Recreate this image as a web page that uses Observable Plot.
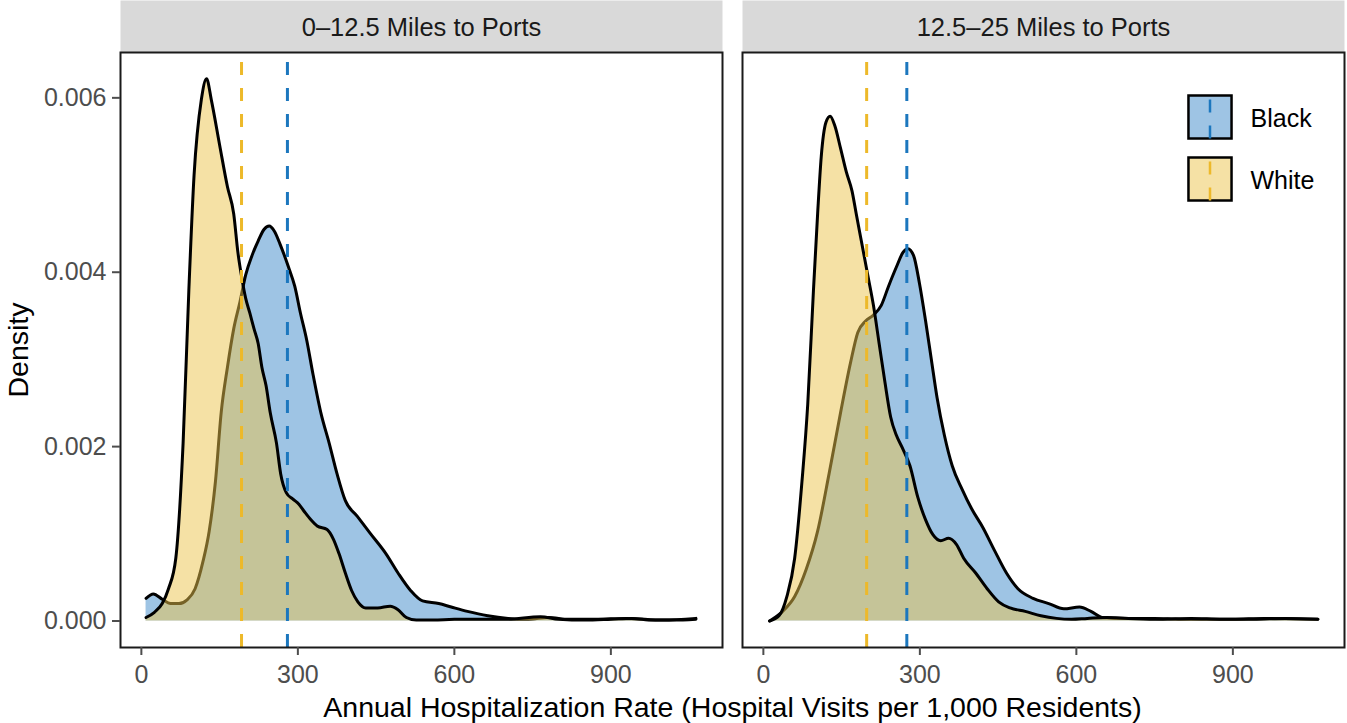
<!DOCTYPE html>
<html>
<head>
<meta charset="utf-8">
<script src="https://cdn.jsdelivr.net/npm/d3@7"></script>
<script src="https://cdn.jsdelivr.net/npm/@observablehq/plot@0.6"></script>
<style>
  html, body { margin: 0; padding: 0; background: #fff; }
  #chart svg { display: block; }
  g[aria-label="x-axis label"], g[aria-label="y-axis label"] { fill: #000; font-size: 28.5px; }
</style>
</head>
<body>
<div id="chart"></div>
<script>
// ---- categories ----
const panels = ["0–12.5 Miles to Ports", "12.5–25 Miles to Ports"];
const groups = ["Black", "White"];
const xTitle = "Annual Hospitalization Rate (Hospital Visits per 1,000 Residents)";
const yTitle = "Density";
const xTicks = [0, 300, 600, 900];
const yTicks = [0, 0.002, 0.004, 0.006];

// ---- density curves (x = rate, d = density) ----
const leftBlackX = [9, 23, 40, 56, 72, 87, 103, 118, 130, 142, 153, 165, 177, 189, 200, 212, 224, 235, 245, 255, 266, 282, 294, 305, 317, 329, 344, 360, 375, 391, 414, 438, 469, 492, 516, 539, 570, 594, 625, 664, 703, 742, 780, 820, 870, 930, 1000, 1063];
const leftBlackD = [0.00026, 0.00031, 0.00025, 0.00020, 0.00020, 0.00024, 0.00037, 0.00068, 0.00103, 0.00160, 0.00239, 0.00291, 0.00335, 0.00366, 0.00397, 0.00419, 0.00436, 0.00449, 0.00453, 0.00447, 0.00432, 0.00406, 0.00384, 0.00353, 0.00322, 0.00283, 0.00239, 0.00204, 0.00169, 0.00138, 0.00120, 0.00101, 0.00077, 0.00055, 0.00035, 0.00023, 0.00020, 0.00016, 0.00011, 0.00006, 0.00003, 0.00002, 0.00004, 0.00002, 0.00002, 0.00003, 0.00001, 0.00003];

const leftWhiteX = [9, 25, 40, 52, 66, 80, 91, 101, 115, 125, 134, 150, 165, 177, 185, 193, 200, 208, 216, 224, 231, 239, 247, 259, 267, 278, 290, 302, 313, 325, 337, 356, 368, 379, 391, 403, 415, 430, 453, 477, 492, 508, 527, 560, 600, 650, 700, 765, 800, 850, 900, 940, 980, 1020, 1063];
const leftWhiteD = [0.00004, 0.00010, 0.00020, 0.00037, 0.00072, 0.00204, 0.00379, 0.00511, 0.00598, 0.00622, 0.00598, 0.00546, 0.00498, 0.00467, 0.00423, 0.00392, 0.00370, 0.00353, 0.00335, 0.00318, 0.00291, 0.00270, 0.00239, 0.00204, 0.00169, 0.00147, 0.00140, 0.00134, 0.00125, 0.00116, 0.00109, 0.00105, 0.00094, 0.00077, 0.00055, 0.00035, 0.00022, 0.00015, 0.00015, 0.00017, 0.00013, 0.00004, 0.00001, 0.00001, 0.00002, 0.00002, 0.00002, 0.00005, 0.00002, 0.00001, 0.00002, 0.00003, 0.00001, 0.00001, 0.00002];

const rightBlackX = [12, 37, 60, 82, 104, 126, 148, 167, 181, 196, 211, 226, 240, 255, 268, 277, 288, 299, 311, 322, 333, 347, 362, 381, 399, 421, 443, 466, 488, 517, 547, 576, 606, 628, 650, 694, 750, 800, 900, 960, 1063];
const rightBlackD = [0.00000, 0.00011, 0.00028, 0.00059, 0.00103, 0.00169, 0.00239, 0.00296, 0.00331, 0.00344, 0.00351, 0.00362, 0.00384, 0.00406, 0.00423, 0.00427, 0.00419, 0.00388, 0.00344, 0.00300, 0.00256, 0.00213, 0.00178, 0.00151, 0.00129, 0.00107, 0.00081, 0.00055, 0.00037, 0.00026, 0.00020, 0.00014, 0.00016, 0.00011, 0.00004, 0.00003, 0.00003, 0.00002, 0.00002, 0.00003, 0.00002];

const rightWhiteX = [12, 30, 45, 60, 74, 85, 96, 104, 111, 120, 128, 137, 148, 159, 170, 178, 189, 200, 211, 222, 233, 244, 255, 266, 281, 296, 311, 325, 340, 355, 370, 384, 407, 429, 451, 473, 502, 532, 562, 591, 621, 658, 700, 760, 820, 880, 940, 1000, 1063];
const rightWhiteD = [0.00000, 0.00006, 0.00028, 0.00072, 0.00160, 0.00248, 0.00379, 0.00467, 0.00533, 0.00572, 0.00579, 0.00568, 0.00542, 0.00515, 0.00493, 0.00467, 0.00432, 0.00397, 0.00362, 0.00318, 0.00274, 0.00234, 0.00213, 0.00199, 0.00178, 0.00142, 0.00116, 0.00099, 0.00092, 0.00095, 0.00088, 0.00072, 0.00055, 0.00037, 0.00022, 0.00015, 0.00011, 0.00006, 0.00003, 0.00002, 0.00003, 0.00004, 0.00003, 0.00002, 0.00003, 0.00002, 0.00002, 0.00003, 0.00002];

// ---- group means (dashed lines) ----
const leftMeans = [280, 192];   // Black, White
const rightMeans = [275, 198];  // Black, White

// ---- styling ----
const fills = {Black: "#3D89C9", White: "#EBC34B"};
const dashColors = {Black: "#1C77BE", White: "#EDB92A"};

// ---- build tidy tables ----
const rows = [];
function addSeries(panel, group, xs, ds) { xs.forEach((x, i) => rows.push({panel, group, x, d: ds[i]})); }
addSeries(panels[0], "Black", leftBlackX, leftBlackD);
addSeries(panels[0], "White", leftWhiteX, leftWhiteD);
addSeries(panels[1], "Black", rightBlackX, rightBlackD);
addSeries(panels[1], "White", rightWhiteX, rightWhiteD);
const means = [];
groups.forEach((g, i) => { means.push({panel: panels[0], group: g, x: leftMeans[i]}); means.push({panel: panels[1], group: g, x: rightMeans[i]}); });
const legendItems = groups.map(g => ({panel: panels[1], group: g}));

// ---- layout ----
const W = 1347, H = 723, MT = 52, MB = 76, ML = 119, MR = 2;
const frameH = H - MT - MB;
const curve = "monotone-x";
const vline = {draw(ctx, size) { const h = Math.sqrt(size) / 2; ctx.moveTo(0, -h); ctx.lineTo(0, h); }};

const marks = [Plot.frame({fill: "#D9D9D9", insetTop: -MT, insetBottom: frameH})];
groups.forEach(g => {
  const data = rows.filter(r => r.group === g);
  marks.push(Plot.areaY(data, {x: "x", y: "d", fx: "panel", fill: fills[g], fillOpacity: 0.5, curve}));
  marks.push(Plot.lineY(data, {x: "x", y: "d", fx: "panel", stroke: "#000", strokeWidth: 3, curve}));
});
groups.forEach(g => {
  marks.push(Plot.ruleX(means.filter(m => m.group === g), {x: "x", fx: "panel", stroke: dashColors[g], strokeWidth: 3, strokeDasharray: "13,13", strokeDashoffset: 16}));
});
marks.push(Plot.frame({stroke: "#1a1a1a", strokeWidth: 2}));
marks.push(Plot.axisY({ticks: yTicks, tickFormat: d3.format(".3f"), tickSize: 8, tickPadding: 6, fontSize: 25, color: "#4D4D4D", strokeWidth: 2,
  label: yTitle, labelAnchor: "center", labelArrow: "none", labelOffset: 113}));
marks.push(Plot.axisX({ticks: xTicks, tickSize: 8, tickPadding: 10, fontSize: 25, color: "#4D4D4D", strokeWidth: 2,
  label: xTitle, labelAnchor: "center", labelArrow: "none", labelOffset: 69}));
marks.push(Plot.axisFx({anchor: "top", tickSize: 0, tickPadding: 17, fontSize: 25.5, fill: "#1A1A1A", label: null}));
// legend inside the right panel
legendItems.forEach((item, i) => {
  const dy = 64.5 + i * 62;
  marks.push(Plot.dot([item], {fx: "panel", frameAnchor: "top-right", dx: -134.5, dy, symbol: "square", r: 24.3,
    fill: fills[item.group], fillOpacity: 0.5, stroke: "#000", strokeWidth: 2.5}));
  marks.push(Plot.dot([item], {fx: "panel", frameAnchor: "top-right", dx: -134.5, dy, symbol: vline, r: 24.3,
    fill: "none", stroke: dashColors[item.group], strokeWidth: 2.5, strokeDasharray: "13,13", strokeDashoffset: 22}));
  marks.push(Plot.text([item], {fx: "panel", frameAnchor: "top-right", dx: -94, dy: dy + 1.5, text: "group", textAnchor: "start", lineAnchor: "middle", fontSize: 25, fill: "#000"}));
});

const chart = Plot.plot({
  width: W, height: H, marginTop: MT, marginBottom: MB, marginLeft: ML, marginRight: MR,
  style: {fontFamily: "'Liberation Sans', Arial, Helvetica, sans-serif", background: "#fff", color: "#000"},
  x: {domain: [-40, 1114]},
  y: {domain: [-0.000304, 0.00652]},
  fx: {domain: panels, paddingInner: 0.032, paddingOuter: 0},
  marks
});
document.getElementById("chart").append(chart);
</script>
</body>
</html>
